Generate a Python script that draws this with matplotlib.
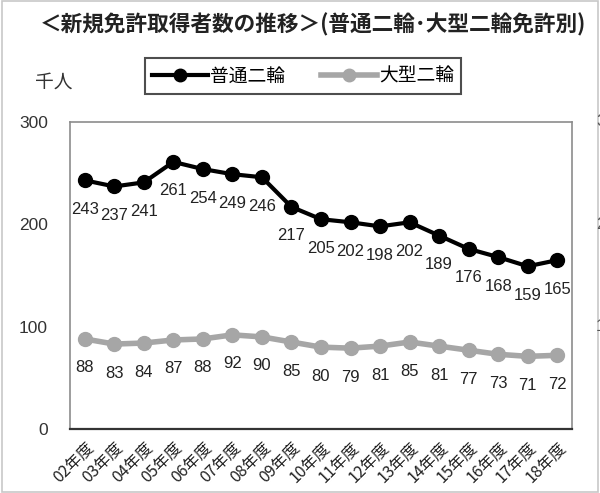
import matplotlib
matplotlib.use("Agg")
import matplotlib.pyplot as plt
from matplotlib.patches import Rectangle
from matplotlib.transforms import blended_transform_factory

plt.rcParams['font.family'] = ['Noto Sans CJK JP', 'DejaVu Sans']

years = ["02年度", "03年度", "04年度", "05年度", "06年度", "07年度", "08年度", "09年度",
         "10年度", "11年度", "12年度", "13年度", "14年度", "15年度", "16年度", "17年度", "18年度"]
futsuu = [243, 237, 241, 261, 254, 249, 246, 217, 205, 202, 198, 202, 189, 176, 168, 159, 165]
oogata = [88, 83, 84, 87, 88, 92, 90, 85, 80, 79, 81, 85, 81, 77, 73, 71, 72]
yticks = [0, 100, 200, 300]

black = "#000000"
gray = "#a6a6a6"
num_font = "Liberation Sans"

fig = plt.figure(figsize=(6.0, 4.93), dpi=100)
ax = fig.add_axes([70 / 600, 64 / 493, 502 / 600, 307 / 493])

x = list(range(len(years)))
l1, = ax.plot(x, futsuu, color=black, lw=3, marker='o', ms=10, label="普通二輪", zorder=3)
l2, = ax.plot(x, oogata, color=gray, lw=4, marker='o', ms=10, label="大型二輪", zorder=3)

for xi, v in zip(x, futsuu):
    ax.annotate(str(v), (xi, v), xytext=(0, -29), textcoords='offset pixels',
                ha='center', va='center', fontsize=12, family=num_font, color="#222222")
for xi, v in zip(x, oogata):
    ax.annotate(str(v), (xi, v), xytext=(0, -29), textcoords='offset pixels',
                ha='center', va='center', fontsize=12, family=num_font, color="#222222")

ax.set_xlim(-0.5, len(years) - 0.5)
ax.set_ylim(0, 300)
ax.set_yticks(yticks)
ax.set_yticklabels([str(t) for t in yticks], family=num_font, fontsize=12.5, color="#333333")
ax.set_xticks(x)
ax.set_xticklabels(years, rotation=45, ha='right', va='top', rotation_mode='anchor',
                   fontsize=11.5, color="#222222")
ax.tick_params(axis='both', length=0)
ax.tick_params(axis='y', pad=16)
ax.tick_params(axis='x', pad=7)

for s in ['top', 'right', 'left']:
    ax.spines[s].set_color("#8c8c8c")
    ax.spines[s].set_linewidth(1.2)
ax.spines['bottom'].set_color("#333333")
ax.spines['bottom'].set_linewidth(1.6)

fig.text(40 / 600, 1 - 25 / 493, "＜新規免許取得者数の推移＞(普通二輪･大型二輪免許別)",
         ha='left', va='center', fontsize=15.6, fontweight='bold', color="#222222")
fig.text(35 / 600, 1 - 82 / 493, "千人", ha='left', va='center', fontsize=13.5, color="#333333")

leg = fig.legend(handles=[l1, l2], loc='center', bbox_to_anchor=(303 / 600, 1 - 76 / 493),
                 ncol=2, frameon=True, fancybox=False, fontsize=13.5, handlelength=3.0,
                 columnspacing=1.9, handletextpad=0.1, borderpad=0.4, markerscale=0.9)
leg.get_frame().set_edgecolor("#222222")
leg.get_frame().set_linewidth(1.5)

# partial labels from the neighbouring chart, cut off at the right edge
tr = blended_transform_factory(fig.transFigure, ax.transData)
for t in [100, 200, 300]:
    fig.text(596 / 600, t, str(t), transform=tr, ha='left', va='center',
             fontsize=12, family=num_font, color="#555555")

fig.patches.append(Rectangle((0.003, 0.003), 0.994, 0.994, transform=fig.transFigure,
                             fill=False, edgecolor="#c8c8c8", lw=1.2))

fig.savefig("out.png", dpi=100, facecolor="white")
